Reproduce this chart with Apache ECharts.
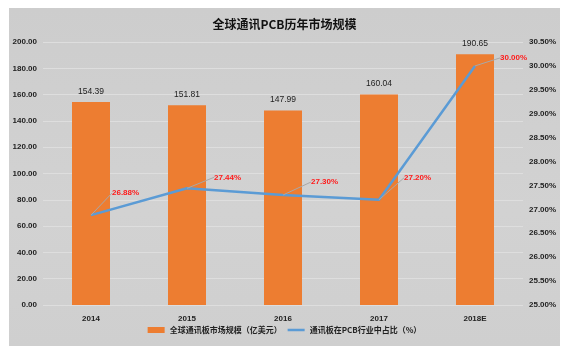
<!DOCTYPE html>
<html>
<head>
<meta charset="utf-8">
<script src="https://cdn.jsdelivr.net/npm/echarts@6/dist/echarts.min.js"></script>
<style>
  html, body { margin: 0; padding: 0; background: #ffffff; }
  #chart {
    position: absolute; left: 9px; top: 8px; width: 551px; height: 338px;
    background: linear-gradient(180deg, #cdcdcd 0%, #d2d2d2 60%, #cfcfcf 100%);
  }
</style>
</head>
<body>
<div id="chart"></div>
<script>
// 年份
const years = ['2014', '2015', '2016', '2017', '2018E'];
// 全球通讯板市场规模（亿美元）
const marketSize = [154.39, 151.81, 147.99, 160.04, 190.65];
// 通讯板在PCB行业中占比（%）
const shareRatio = [26.88, 27.44, 27.30, 27.20, 30.00];

const chart = echarts.init(document.getElementById('chart'));

// 百分比标签的偏移（引导线）
const labelShift = [[19, -22], [25, -11], [26, -13], [23, -22], [23, -8]];

const axisFont = { color: '#222', fontSize: 8, fontWeight: 'bold', fontFamily: 'Liberation Sans, Noto Sans CJK SC' };

const options = {
  animation: false,
  title: {
    text: '全球通讯PCB历年市场规模',
    left: 'center',
    top: 5,
    textStyle: { color: '#111', fontSize: 12, fontWeight: 'bold', fontFamily: 'Noto Sans CJK SC' }
  },
  legend: {
    bottom: 7,
    left: 'center',
    itemWidth: 17,
    itemHeight: 6,
    itemGap: 6,
    textStyle: { color: '#222', fontSize: 8, fontWeight: 'bold', fontFamily: 'Noto Sans CJK SC' },
    data: [
      { name: '全球通讯板市场规模（亿美元）', icon: 'rect' },
      { name: '通讯板在PCB行业中占比（%）', icon: 'path://M0,0h17v2.5h-17z' }
    ]
  },
  grid: { left: 34, right: 37, top: 34, bottom: 41 },
  xAxis: [{
    type: 'category',
    data: years,
    axisLine: { show: false },
    axisTick: { show: false },
    axisLabel: Object.assign({ margin: 10 }, axisFont)
  }],
  yAxis: [{
    type: 'value',
    min: 0, max: 200, interval: 20,
    position: 'left',
    axisLine: { show: false },
    axisTick: { show: false },
    axisLabel: Object.assign({ margin: 6, formatter: v => v.toFixed(2) }, axisFont),
    splitLine: { lineStyle: { color: '#dedede', width: 1 } }
  }, {
    type: 'value',
    min: 25, max: 30.5, interval: 0.5,
    position: 'right',
    axisLine: { show: false },
    axisTick: { show: false },
    axisLabel: Object.assign({ margin: 6, formatter: v => v.toFixed(2) + '%' }, axisFont),
    splitLine: { show: false }
  }],
  series: [{
    name: '全球通讯板市场规模（亿美元）',
    type: 'bar',
    data: marketSize,
    barWidth: 38,
    itemStyle: { color: '#ed7d31' },
    label: {
      show: true,
      position: 'top',
      distance: 6,
      color: '#222',
      fontSize: 8.5,
      fontFamily: 'Liberation Sans',
      formatter: p => p.value.toFixed(2)
    }
  }, {
    name: '通讯板在PCB行业中占比（%）',
    type: 'line',
    yAxisIndex: 1,
    data: shareRatio,
    symbol: 'circle',
    symbolSize: 0,
    showSymbol: true,
    lineStyle: { color: '#5b9bd5', width: 2.5 },
    itemStyle: { color: '#5b9bd5' },
    label: {
      show: true,
      position: 'right',
      distance: 2,
      color: '#ff1a1a',
      fontSize: 8,
      fontWeight: 'bold',
      fontFamily: 'Liberation Sans',
      formatter: p => p.value.toFixed(2) + '%'
    },
    labelLine: { show: true, lineStyle: { color: '#a8a8a8', width: 1 } },
    labelLayout: p => ({ dx: labelShift[p.dataIndex][0], dy: labelShift[p.dataIndex][1] })
  }]
};

chart.setOption(options);
</script>
</body>
</html>
